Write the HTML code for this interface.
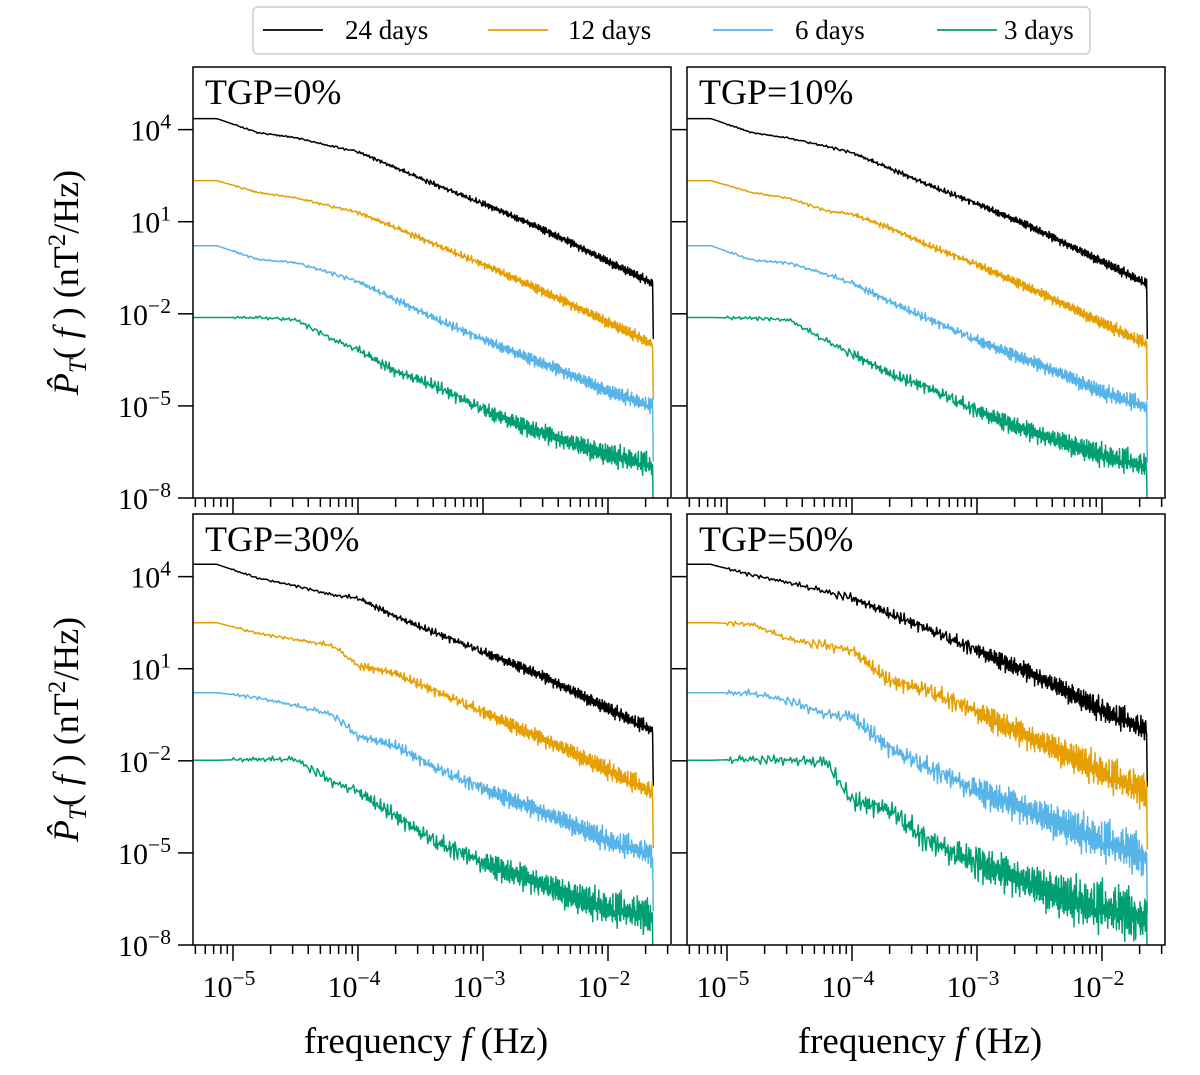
<!DOCTYPE html>
<html><head><meta charset="utf-8"><style>
html,body{margin:0;padding:0;background:#fff;}
svg{display:block;font-family:"Liberation Serif",serif;}
</style></head><body>
<svg id="fig" width="1200" height="1075" viewBox="0 0 1200 1075" xmlns="http://www.w3.org/2000/svg">
<g>
<rect x="253" y="7" width="837" height="47" rx="5" fill="#fff" stroke="#ccc" stroke-width="1.5"/>
<g><line x1="263" y1="30" x2="323" y2="30" stroke="#000" stroke-width="1.8"/><text x="345" y="39" font-size="27">24 days</text></g>
<g><line x1="488" y1="30" x2="548" y2="30" stroke="#E69F00" stroke-width="1.8"/><text x="568" y="39" font-size="27">12 days</text></g>
<g><line x1="713" y1="30" x2="773" y2="30" stroke="#56B4E9" stroke-width="1.8"/><text x="795" y="39" font-size="27">6 days</text></g>
<g><line x1="937" y1="30" x2="997" y2="30" stroke="#009E73" stroke-width="1.8"/><text x="1004" y="39" font-size="27">3 days</text></g>
</g>
</svg>
<script>
// ---- data ----
const seriesNames = ["24 days","12 days","6 days","3 days"];
const seriesColors = ["#000000","#E69F00","#56B4E9","#009E73"];
const panelTitles = ["TGP=0%","TGP=10%","TGP=30%","TGP=50%"];
const logFreq = [-5.32,-5.13,-4.8,-4.5,-4.2,-4.0,-3.7,-3.4,-3.0,-2.6,-2.3,-2.0,-1.8,-1.64];
const tgp0 = [
 [4.36,4.36,3.9,3.74,3.45,3.28,2.76,2.24,1.59,0.9,0.32,-0.3,-0.69,-1.02],
 [2.34,2.34,1.95,1.78,1.49,1.30,0.81,0.29,-0.39,-1.11,-1.69,-2.28,-2.67,-3.0],
 [0.22,0.22,-0.23,-0.33,-0.69,-0.95,-1.54,-2.12,-2.84,-3.49,-3.98,-4.53,-4.79,-5.02],
 [-2.12,-2.12,-2.12,-2.19,-2.84,-3.17,-3.88,-4.31,-5.12,-5.77,-6.2,-6.59,-6.75,-6.98]];
const tgp10 = [
 [4.36,4.36,3.9,3.72,3.45,3.25,2.74,2.22,1.58,0.9,0.3,-0.3,-0.7,-1.02],
 [2.34,2.34,1.95,1.76,1.35,1.25,0.8,0.25,-0.4,-1.12,-1.7,-2.3,-2.68,-3.0],
 [0.22,0.22,-0.25,-0.35,-0.72,-1.0,-1.6,-2.15,-2.86,-3.5,-4.0,-4.55,-4.8,-5.05],
 [-2.12,-2.12,-2.14,-2.2,-2.9,-3.3,-3.95,-4.4,-5.15,-5.8,-6.2,-6.6,-6.8,-7.0]];
const tgp30 = [
 [4.4,4.4,3.95,3.7,3.4,3.3,2.7,2.2,1.55,0.9,0.3,-0.3,-0.7,-1.02],
 [2.5,2.5,2.15,1.95,1.75,1.1,0.85,0.3,-0.4,-1.15,-1.7,-2.3,-2.7,-3.05],
 [0.22,0.22,0.05,-0.2,-0.5,-1.2,-1.5,-2.2,-2.9,-3.55,-4.05,-4.6,-4.85,-5.1],
 [-1.98,-1.98,-1.95,-1.95,-2.7,-3.0,-3.8,-4.6,-5.3,-5.9,-6.4,-6.8,-6.95,-7.15]];
const tgp50 = [
 [4.4,4.4,4.05,3.8,3.5,3.3,2.8,2.3,1.6,0.9,0.3,-0.35,-0.7,-1.05],
 [2.5,2.5,2.45,1.95,1.75,1.6,0.6,0.3,-0.4,-1.2,-1.75,-2.35,-2.75,-3.1],
 [0.22,0.22,0.2,-0.05,-0.5,-0.55,-1.6,-2.2,-2.95,-3.6,-4.1,-4.6,-4.9,-5.2],
 [-1.98,-1.98,-1.95,-1.98,-2.05,-3.3,-3.6,-4.6,-5.3,-5.95,-6.45,-6.8,-7.0,-7.2]];
const panelData = [tgp0,tgp10,tgp30,tgp50];
const noiseAmp = [[0.13,0.17,0.22,0.33],[0.14,0.18,0.24,0.35],[0.2,0.28,0.34,0.5],[0.35,0.5,0.6,0.75]];
const jitter = [0.3,-0.8,0.5,-0.2,0.9,-0.6,0.1,-1.0,0.7,-0.3,0.4,-0.9,0.8,-0.1,0.2,-0.7,1.0,-0.4,0.6,-0.5,
 -0.2,0.5,-0.9,0.3,-0.6,0.9,-0.3,0.1,-0.8,0.7,-0.1,0.4,-1.0,0.6,-0.4,0.2,0.8,-0.7,0.3,-0.2,
 0.5,-0.6,0.9,-0.9,0.0,0.6,-0.3,0.7,-0.5,0.2,-0.8,0.4,-0.1,1.0,-0.6,0.3,-0.4,0.8,-1.0,0.1];
const yTicks = [4,1,-2,-5,-8];
const xTicks = [-5,-4,-3,-2];
// ---- layout ----
const svg = document.getElementById('fig');
const NS = "http://www.w3.org/2000/svg";
const PW = 478, PH = 431;
const panels = [{x:193,y:67},{x:687,y:67},{x:193,y:514},{x:687,y:514}];
const XMIN=-5.32, XMAX=-1.496, YMIN=-8, YMAX=6.04;
function mk(tag, attrs, parent){const e=document.createElementNS(NS,tag);for(const k in attrs)e.setAttribute(k,attrs[k]);(parent||svg).appendChild(e);return e;}
function sx(p,lf){return p.x+(lf-XMIN)/(XMAX-XMIN)*PW;}
function sy(p,lp){return p.y+PH-(lp-YMIN)/(YMAX-YMIN)*PH;}
function interp(arr,lf){for(let i=0;i<logFreq.length-1;i++){if(lf<=logFreq[i+1]){const t=(lf-logFreq[i])/(logFreq[i+1]-logFreq[i]);return arr[i]+t*(arr[i+1]-arr[i]);}}return arr[arr.length-1];}
function supText(parent,x,y,exp,anchor,size,name){
 const t=mk('text',{x:x,y:y,'font-size':size,'text-anchor':anchor},parent);
 
 
 t.appendChild(document.createTextNode('10'));
 const s=mk('tspan',{dy:-12,'font-size':size*0.72},t);s.textContent=(exp<0?'\u2212'+(-exp):''+exp);
 return t;
}
const N=jitter.length;
panels.forEach((p,pi)=>{
 const g=mk('g',{});
 
 
 const clipId='clip'+pi;
 const cp=mk('clipPath',{id:clipId},g);mk('rect',{x:p.x,y:p.y,width:PW,height:PH},cp);
 const lines=mk('g',{'clip-path':'url(#'+clipId+')'},g);
 panelData[pi].forEach((arr,si)=>{
  let pts=[];let i=si*17+pi*29;
  let lf=-5.32;
  while(lf<=-1.64){
   let v=interp(arr,lf);
   const env=Math.min(1,Math.max(0,(lf+4.6)/2.6));
   const j=0.6*jitter[i%N]+0.5*jitter[(i*7+Math.floor(i/N)*11)%N];
   v+=j*noiseAmp[pi][si]*(0.2+env)*(lf>-5.0?1:0);
   i++;
   pts.push(sx(p,lf).toFixed(1)+','+sy(p,v).toFixed(1));
   lf+= lf<-4.0?0.012:(lf<-3.0?0.007:0.0035);
  }
  pts.push(sx(p,-1.638).toFixed(1)+','+sy(p,arr[arr.length-1]-1.8).toFixed(1));
  const pl=mk('polyline',{points:pts.join(' '),fill:'none',stroke:seriesColors[si],'stroke-width':1.5,'stroke-linejoin':'round'},lines);
  
  
 });
 const fr=mk('rect',{x:p.x,y:p.y,width:PW,height:PH,fill:'none',stroke:'#000','stroke-width':1.5},g);
 
 
 const tt=mk('text',{x:p.x+12,y:p.y+37,'font-size':36},g);tt.textContent=panelTitles[pi];
 
 
 yTicks.forEach(v=>{const y=sy(p,v);mk('line',{x1:p.x-15,x2:p.x,y1:y,y2:y,stroke:'#000','stroke-width':1.5},g);
  if(pi%2===0) supText(g,p.x-22,y+11,v,'end',30,'y-tick-label');});
 const bot=p.y+PH;
 for(let d=-6;d<=-1;d++){for(let m=1;m<=9;m++){const lf=d+Math.log10(m);if(lf<XMIN||lf>XMAX)continue;
  const x=sx(p,lf);mk('line',{x1:x,x2:x,y1:bot,y2:bot+(m===1?16:9),stroke:'#000','stroke-width':1.5},g);}}
 if(pi>=2){xTicks.forEach(v=>supText(g,sx(p,v)-4,bot+52,v,'middle',30,'x-tick-label'));
  const xl=mk('text',{x:p.x+PW/2-6,y:1053,'font-size':37,'text-anchor':'middle'},g);
  
  
  xl.appendChild(document.createTextNode('frequency '));const it=mk('tspan',{'font-style':'italic'},xl);it.textContent='f';xl.appendChild(document.createTextNode(' (Hz)'));}
 if(pi%2===0){const cy=p.y+PH/2;
  const yl=mk('text',{x:0,y:0,'font-size':36,'text-anchor':'middle',transform:'translate(78,'+cy+') rotate(-90)'},g);
  
  
  const a=mk('tspan',{'font-style':'italic'},yl);a.textContent='P\u0302';
  const b=mk('tspan',{'font-style':'italic','font-size':25,dy:8},yl);b.textContent='T';
  const c=mk('tspan',{dy:-8},yl);c.textContent='( ';
  const d=mk('tspan',{'font-style':'italic'},yl);d.textContent='f';
  const e=mk('tspan',{},yl);e.textContent=' ) (nT';
  const f2=mk('tspan',{dy:-13,'font-size':25},yl);f2.textContent='2';
  const h=mk('tspan',{dy:13},yl);h.textContent='/Hz)';}
});
</script>
</body></html>
